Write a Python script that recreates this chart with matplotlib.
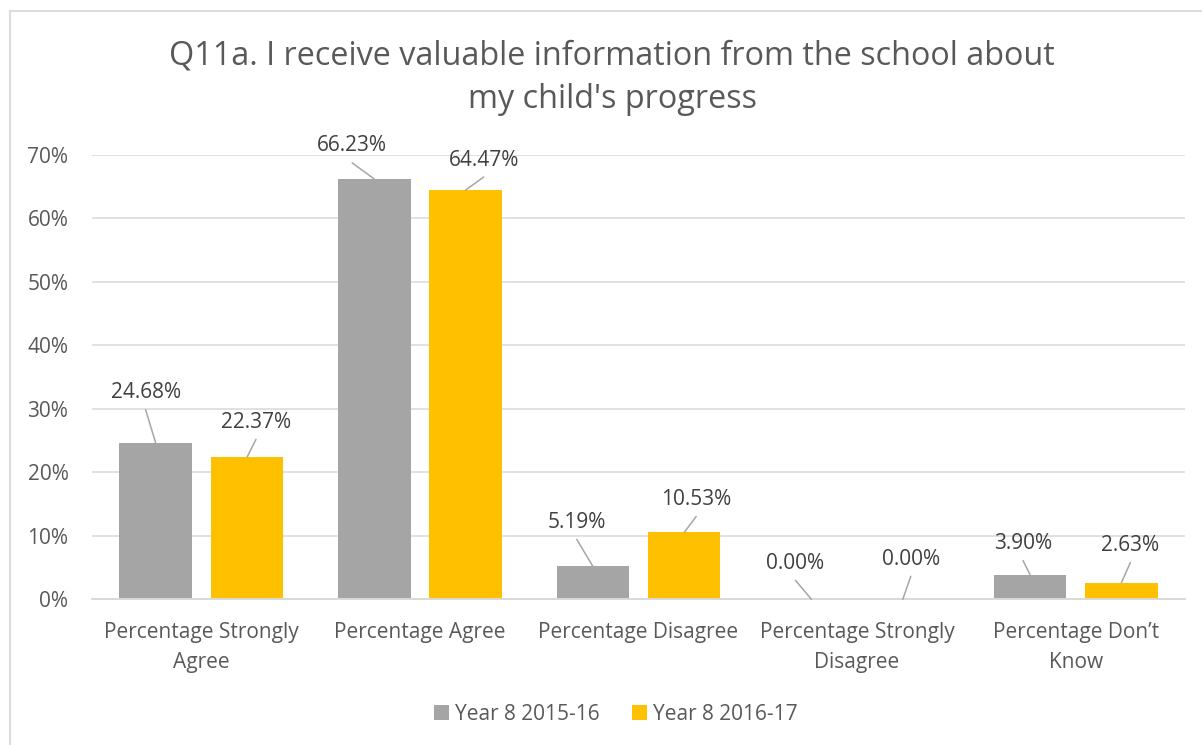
import matplotlib
matplotlib.use("Agg")
import matplotlib.pyplot as plt
from matplotlib.lines import Line2D
import numpy as np

categories = ["Percentage Strongly\nAgree", "Percentage Agree", "Percentage Disagree",
              "Percentage Strongly\nDisagree", "Percentage Don\u2019t\nKnow"]
year_2015_16 = [24.68, 66.23, 5.19, 0.00, 3.90]
year_2016_17 = [22.37, 64.47, 10.53, 0.00, 2.63]
series_names = ["Year 8 2015-16", "Year 8 2016-17"]
y_ticks = [0, 10, 20, 30, 40, 50, 60, 70]
title = "Q11a. I receive valuable information from the school about\nmy child's progress"

# label placement offsets (pixels) of the text centre relative to bar top centre
off_a = [(-10, 50), (-22, 33), (-16, 44), (-16, 36), (-7, 31)]
off_b = [(9, 35), (18, 30), (12, 33), (8, 40), (9, 37)]

plt.rcParams['font.family'] = ['Open Sans', 'DejaVu Sans']
FS = 15
GREY_TXT = "#595959"
LBL_TXT = "#404040"
GRID = "#D9D9D9"

fig = plt.figure(figsize=(12.02, 7.45), dpi=100)
W, H = 1202, 745
ax = fig.add_axes([92 / W, 1 - 599.3 / H, (1185 - 92) / W, (599.3 - 155) / H])

x = np.arange(len(categories))
bw = 0.332
off = 0.209
ba = ax.bar(x - off, year_2015_16, bw, color="#A5A5A5", label=series_names[0], zorder=3)
bb = ax.bar(x + off, year_2016_17, bw, color="#FFC000", label=series_names[1], zorder=3)

ax.set_xlim(-0.5, len(categories) - 0.5)
ax.set_ylim(0, 70)
ax.set_yticks(y_ticks)
ax.set_yticklabels([f"{t}%" for t in y_ticks])
ax.set_xticks(x)
ax.set_xticklabels(categories, linespacing=1.55)
ax.tick_params(axis='both', length=0, labelsize=FS, labelcolor=GREY_TXT)
ax.tick_params(axis='y', pad=17)
ax.tick_params(axis='x', pad=16.5)
ax.grid(axis='y', color=GRID, linewidth=1.1, zorder=0)
for s in ["top", "right", "left"]:
    ax.spines[s].set_visible(False)
ax.spines["bottom"].set_color(GRID)
ax.spines["bottom"].set_linewidth(1.4)
ax.spines["bottom"].set_zorder(4)

def label(xc, val, o):
    dx, dy = o
    ax.annotate(f"{val:.2f}%", xy=(xc, val), xytext=(dx, dy), textcoords='offset pixels',
                ha='center', va='center', fontsize=FS, color=LBL_TXT, zorder=5)
    ax.annotate("", xy=(xc, val), xytext=(dx, dy - 17), textcoords='offset pixels',
                arrowprops=dict(arrowstyle='-', color="#A6A6A6", lw=1.1,
                                shrinkA=0, shrinkB=0), zorder=5)

for i in range(len(categories)):
    label(x[i] - off, year_2015_16[i], off_a[i])
    label(x[i] + off, year_2016_17[i], off_b[i])

fig.text(612 / W, 1 - 78 / H, title, ha='center', va='center', fontsize=23.3,
         color=GREY_TXT, linespacing=1.42)

fig.legend(handles=[ba, bb], labels=series_names, loc='center',
           bbox_to_anchor=(616 / W, 1 - 714.5 / H), ncol=2, frameon=False,
           fontsize=FS, labelcolor=GREY_TXT, handlelength=0.7, handleheight=0.7,
           handletextpad=0.3, columnspacing=1.55)

# chart border
fig.add_artist(Line2D([10 / W, 1.0], [1 - 11 / H, 1 - 11 / H], color=GRID, lw=1.3,
                      transform=fig.transFigure))
fig.add_artist(Line2D([10 / W, 10 / W], [0, 1 - 11 / H], color=GRID, lw=1.3,
                      transform=fig.transFigure))

fig.savefig("out.png", dpi=100, facecolor="white")
